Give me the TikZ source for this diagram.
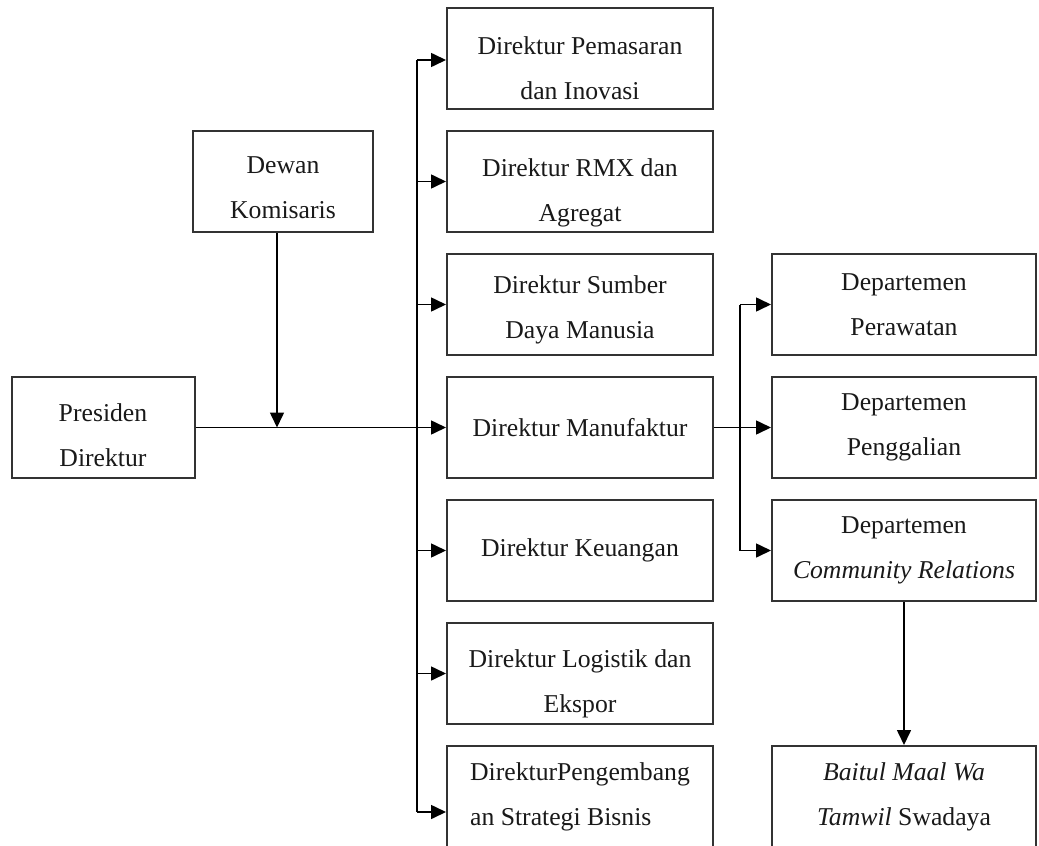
\documentclass[tikz,border=0pt]{standalone}
\usepackage{fontspec}
\setmainfont{Liberation Serif}
\usetikzlibrary{positioning,arrows.meta}

% pushes a two-line text a little lower in its box
\newcommand{\padtop}[1]{\rule{0pt}{#1}}

\begin{document}
\begin{tikzpicture}[
    x=0.5pt,
    y=-0.5pt,
    node distance=61.5pt,
    box/.style={
        rectangle,
        draw=black!80,
        line width=1pt,
        minimum width=133pt,
        minimum height=50.5pt,
        inner sep=0pt,
        align=center,
        text=black!90,
        font=\fontsize{12.85pt}{22.5pt}\selectfont
    },
    dept/.style={
        box,
        minimum width=132pt
    },
    line/.style={
        draw=black,
        line width=0.8pt
    },
    arrow/.style={
        line,
        -{Triangle[length=7.5pt,width=7pt]}
    }
]
\useasboundingbox (0,0) rectangle (1039,846);

% Directors
\node [box] (pemasaran) at (580,58.5) {\padtop{19pt}Direktur Pemasaran\\dan Inovasi};
\node [box, below of=pemasaran] (rmx) {\padtop{20pt}Direktur RMX dan\\Agregat};
\node [box, below of=rmx] (sdm) {\padtop{14pt}Direktur Sumber\\Daya Manusia};
\node [box, below of=sdm] (manufaktur) {Direktur Manufaktur};
\node [box, below of=manufaktur] (keuangan) {Direktur Keuangan};
\node [box, below of=keuangan] (logistik) {\padtop{19pt}Direktur Logistik dan\\Ekspor};
\node [box, below of=logistik, align=left] (strategi) {DirekturPengembang\\an Strategi Bisnis};

% Top level
\node [box, minimum width=91.5pt, left of=manufaktur, node distance=238.5pt] (presiden) {\padtop{17pt}Presiden\\Direktur};
\node [box, minimum width=90pt, left of=rmx, node distance=148.5pt] (dewan) {\padtop{15pt}Dewan\\Komisaris};

% Departments
\node [dept, right of=sdm, node distance=162pt] (perawatan) {Departemen\\Perawatan};
\node [dept, right of=manufaktur, node distance=162pt] (penggalian) {Departemen\\Penggalian};
\node [dept, right of=keuangan, node distance=162pt] (community) {Departemen\\\textit{Community Relations}};
\node [dept, right of=strategi, node distance=162pt] (bmt) {\textit{Baitul Maal Wa}\\\textit{Tamwil} Swadaya};

% Bus lines
\coordinate (bustop) at (417,60);
\coordinate (busbot) at (417,812);
\coordinate (split) at (740,0);

% Arrows
\draw [arrow] (presiden) -- (manufaktur);
\draw [arrow] ([xshift=-3pt]dewan.south) -- ([xshift=-3pt]dewan.south |- presiden.east);
\draw [line] (bustop) -- (busbot);
\draw [arrow] (bustop) -- (bustop -| pemasaran.west);
\draw [arrow] (bustop |- rmx.west) -- (rmx.west);
\draw [arrow] (bustop |- sdm.west) -- (sdm.west);
\draw [arrow] (bustop |- keuangan.west) -- (keuangan.west);
\draw [arrow] (bustop |- logistik.west) -- (logistik.west);
\draw [arrow] (busbot) -- (busbot -| strategi.west);

\draw [arrow] (manufaktur) -- (penggalian);
\draw [line] (split |- perawatan.west) -- (split |- community.west);
\draw [arrow] (split |- perawatan.west) -- (perawatan.west);
\draw [arrow] (split |- community.west) -- (community.west);
\draw [arrow] (community) -- (bmt);

\end{tikzpicture}
\end{document}
